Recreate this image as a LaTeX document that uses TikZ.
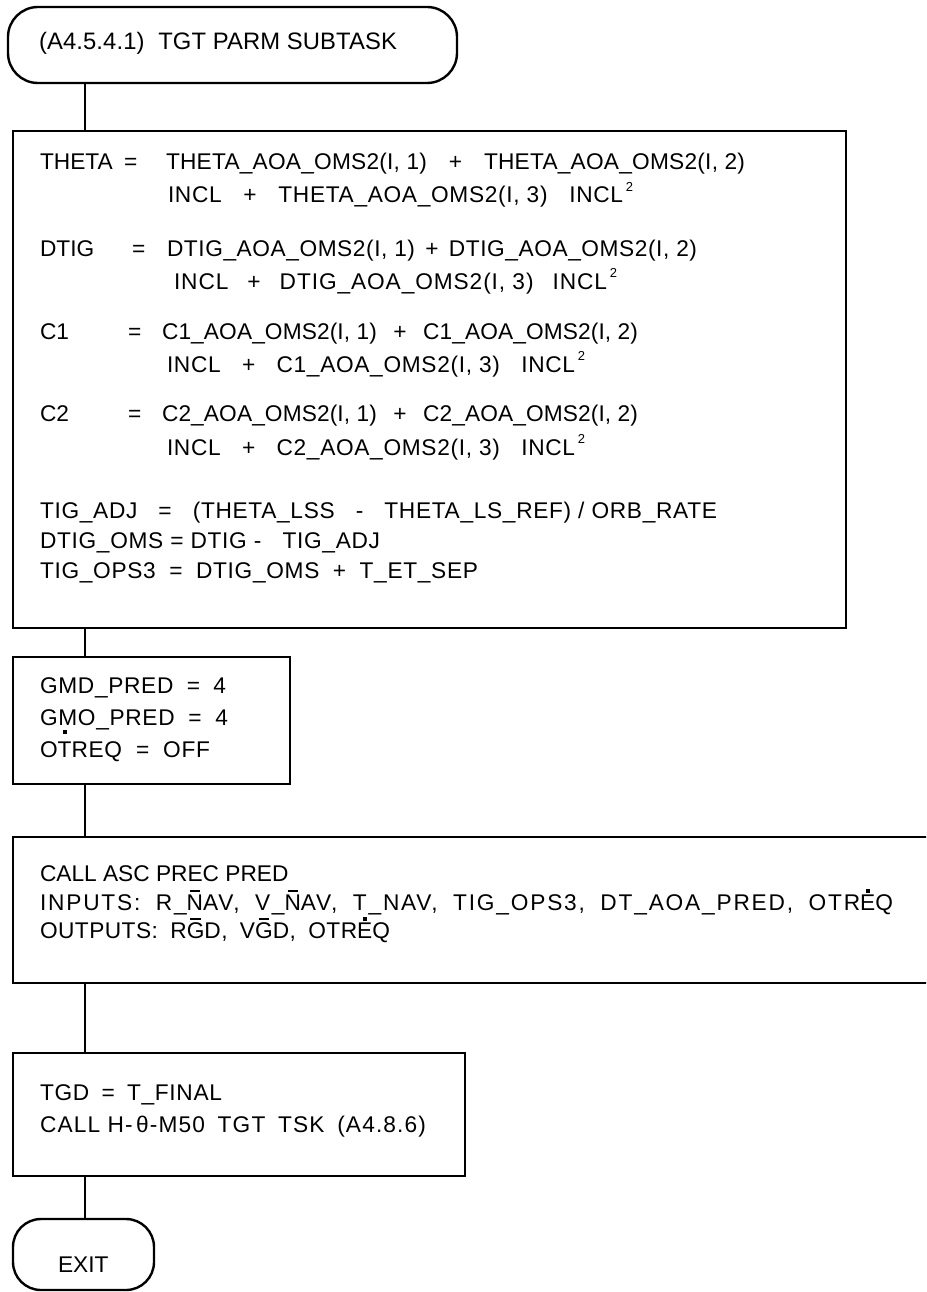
\documentclass[tikz,border=0pt]{standalone}
\usepackage{fontspec}
\setmainfont{Liberation Sans}
\newcommand\bodyfont{\fontsize{22.7}{27}\selectfont}
\newcommand\titlefont{\fontsize{23.8}{28}\selectfont}
\newcommand\ovb[1]{\ooalign{#1\cr\hidewidth\rule[0.80em]{0.45em}{1.6pt}\hidewidth\cr}}
\newcommand\dotab[1]{\ooalign{#1\cr\hidewidth\raisebox{0.74em}{\rule{4pt}{4pt}}\hidewidth\cr}}
\newcommand\dotsq[1]{\ooalign{#1\cr\hidewidth\raisebox{1.0em}{\rule{4pt}{4pt}}\hidewidth\cr}}
\newcommand\sqd{\hspace{0.12em}\raisebox{0.52em}{\fontsize{13}{13}\selectfont 2}}
% a line of given width, letter spacing, gaps \G stretch to fill
\newcommand\G{\hspace{0.3em plus 1fill}}
\newcommand\fitl[3]{\makebox[#1pt][s]{\addfontfeature{LetterSpace=#2}#3}}
\tikzset{
  box/.style={draw, line width=2.8pt, inner sep=0pt, outer sep=0pt, anchor=north west},
  term/.style={draw, line width=2.4pt, rounded corners=30pt, inner sep=0pt, outer sep=0pt, anchor=north west},
  conn/.style={line width=2pt},
  txt/.style={anchor=base west, inner sep=0pt, outer sep=0pt, font=\bodyfont},
  ttl/.style={anchor=base west, inner sep=0pt, outer sep=0pt, font=\titlefont}
}
\begin{document}
\begin{tikzpicture}[x=1pt,y=-1pt]
\path[use as bounding box] (0,0) rectangle (926,1292);
\clip (0,0) rectangle (926,1292);
% shapes
\node[term, minimum width=449pt, minimum height=76pt] (t) at (8,7) {};
\node[box, minimum width=833pt, minimum height=497pt] (b1) at (13,131) {};
\node[box, minimum width=277pt, minimum height=127pt] (b2) at (13,657) {};
\node[box, minimum width=930pt, minimum height=146pt] (b3) at (13,837) {};
\node[box, minimum width=452pt, minimum height=123pt] (b4) at (13,1053) {};
\node[term, minimum width=141pt, minimum height=71pt, rounded corners=28pt] (e) at (13,1219) {};
% connectors
\coordinate (cx) at (85,0);
\draw[conn] (t.south -| cx) -- (b1.north -| cx);
\draw[conn] (b1.south -| cx) -- (b2.north -| cx);
\draw[conn] (b2.south -| cx) -- (b3.north -| cx);
\draw[conn] (b3.south -| cx) -- (b4.north -| cx);
\draw[conn] (b4.south -| cx) -- (e.north -| cx);
% title
\node[ttl] (tt) at (39,50) {\fitl{358}{0.5}{(A4.5.4.1)\G TGT PARM SUBTASK}};
% box 1
\node[txt] (l1a) at (40,170) {THETA};
\node[txt] (l1e) at (124,170) {=};
\node[txt] (l1r) at (166,170) {\fitl{579}{1}{THETA\_AOA\_OMS2(I, 1)\G+\G THETA\_AOA\_OMS2(I, 2)}};
\node[txt] (l1s) at (168,203) {\fitl{465}{3}{INCL\G+\G THETA\_AOA\_OMS2(I, 3)\G INCL\sqd}};
\node[txt] (l2a) at (40,256) {DTIG};
\node[txt] (l2e) at (132,256) {=};
\node[txt] (l2r) at (167,256) {\fitl{530}{2.5}{DTIG\_AOA\_OMS2(I, 1)\G+\G DTIG\_AOA\_OMS2(I, 2)}};
\node[txt] (l2s) at (174,289) {\fitl{443}{4}{INCL\G+\G DTIG\_AOA\_OMS2(I, 3)\G INCL\sqd}};
\node[txt] (l3a) at (40,339) {C1};
\node[txt] (l3e) at (128,339) {=};
\node[txt] (l3r) at (162,339) {\fitl{476}{0.5}{C1\_AOA\_OMS2(I, 1)\G+\G C1\_AOA\_OMS2(I, 2)}};
\node[txt] (l3s) at (167,372) {\fitl{418}{3}{INCL\G+\G C1\_AOA\_OMS2(I, 3)\G INCL\sqd}};
\node[txt] (l4a) at (40,421) {C2};
\node[txt] (l4e) at (128,421) {=};
\node[txt] (l4r) at (162,421) {\fitl{476}{0.5}{C2\_AOA\_OMS2(I, 1)\G+\G C2\_AOA\_OMS2(I, 2)}};
\node[txt] (l4s) at (167,455) {\fitl{418}{3}{INCL\G+\G C2\_AOA\_OMS2(I, 3)\G INCL\sqd}};
\node[txt] (l5) at (40,518) {\fitl{677}{3}{TIG\_ADJ\G =\G (THETA\_LSS\G -\G THETA\_LS\_REF) / ORB\_RATE}};
\node[txt] (l6) at (40,548) {\fitl{340}{3}{DTIG\_OMS = DTIG -\G TIG\_ADJ}};
\node[txt] (l7) at (40,578) {\fitl{438}{3}{TIG\_OPS3\G =\G DTIG\_OMS\G +\G T\_ET\_SEP}};
% box 2
\node[txt] (g1) at (40,693) {\fitl{186}{3}{GMD\_PRED\G =\G 4}};
\node[txt] (g2) at (40,725) {\fitl{188}{3}{GMO\_PRED\G =\G 4}};
\node[txt] (g3) at (40,757) {\fitl{170}{3}{O\dotsq{T}REQ\G =\G OFF}};
% box 3
\node[txt] (c1) at (40,881) {CALL ASC PREC PRED};
\node[txt] (c2) at (40,910) {\fitl{853}{8}{INPUTS:\G R\_\ovb{N}AV,\G V\_\ovb{N}AV,\G T\_NAV,\G TIG\_OPS3,\G DT\_AOA\_PRED,\G OTR\dotab{E}Q}};
\node[txt] (c3) at (40,938) {\fitl{350}{2}{OUTPUTS:\G R\ovb{G}D,\G V\ovb{G}D,\G OTR\dotab{E}Q}};
% box 4
\node[txt] (d1) at (40,1100) {\fitl{182}{3}{TGD\G =\G T\_FINAL}};
\node[txt] (d2) at (40,1132) {\fitl{386}{5}{CALL H-\hspace{0.15em}θ-M50\G TGT\G TSK\G (A4.8.6)}};
% exit
\node[txt] (ex) at (58,1272) {EXIT};
\end{tikzpicture}
\end{document}
